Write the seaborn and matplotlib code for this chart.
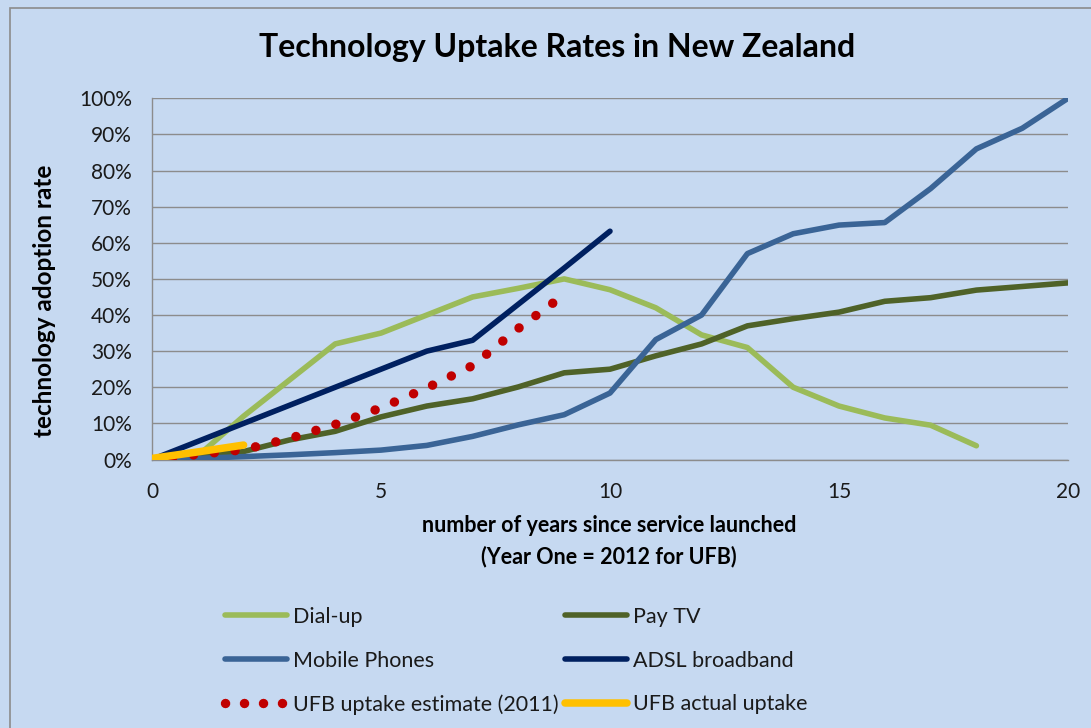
import numpy as np
import pandas as pd
import matplotlib
matplotlib.use("Agg")
import matplotlib.pyplot as plt
from matplotlib.ticker import PercentFormatter, MultipleLocator
from matplotlib.lines import Line2D
from matplotlib.patches import Rectangle
import seaborn as sns

# ---- data (adoption rate in %) ----
years_dialup = list(range(0, 19))
dialup = [0, 1, 12, 22, 32, 35, 40, 45, 47.4, 50, 47, 42, 34.5, 31, 20, 14.8, 11.5, 9.5, 3.8]

years_paytv = list(range(0, 21))
paytv = [0, 0.8, 2.2, 5.4, 7.8, 11.8, 14.8, 16.8, 20.1, 24.0, 25.0, 28.7, 32.0, 37.0,
         39.0, 40.8, 43.8, 44.8, 46.9, 47.9, 48.9]

years_mobile = list(range(0, 21))
mobile = [0, 0.3, 0.8, 1.3, 1.9, 2.6, 3.9, 6.4, 9.6, 12.4, 18.4, 33.2, 40.0, 57.0,
          62.5, 64.9, 65.6, 75.0, 86.0, 91.7, 100.0]

years_adsl = list(range(0, 11))
adsl = [0, 5, 10, 15, 20, 25, 30, 33, 43, 53, 63.2]

years_ufb_est = list(range(0, 10))
ufb_est = [0, 1.4, 2.7, 5.8, 9.7, 14.3, 19.8, 26.0, 36.3, 45.6]

years_ufb_act = [0, 1, 2]
ufb_act = [0.3, 2.1, 4.0]

labels = ["Dial-up", "Pay TV", "Mobile Phones", "ADSL broadband",
          "UFB uptake estimate (2011)", "UFB actual uptake"]
colors = ["#9bbb59", "#4f6228", "#3a6496", "#002060", "#c00000", "#ffc000"]

BG = "#c6d9f1"
GRID = "#8c8c8c"
TXT = "#1a1a1a"

sns.set_theme(style="white")
plt.rcParams["font.family"] = ["Lato", "DejaVu Sans"]

W, H = 1091, 728
fig = plt.figure(figsize=(W / 100, H / 100), dpi=100, facecolor=BG)

def fx(px):
    return px / W

def fy(py):
    return 1 - py / H

# chart border (left/top visible)
fig.patches.append(Rectangle((fx(10), fy(740)), fx(1100), fy(8) - fy(740),
                             transform=fig.transFigure, fill=False,
                             edgecolor="#8c8c8c", lw=1.2))

ax = fig.add_axes([fx(152), fy(459.5), fx(1068 - 152), fy(98.3) - fy(459.5)])
ax.set_facecolor(BG)

series = [
    (years_dialup, dialup),
    (years_paytv, paytv),
    (years_mobile, mobile),
    (years_adsl, adsl),
    (years_ufb_est, ufb_est),
    (years_ufb_act, ufb_act),
]

LW = 4.0
DOT = (0, (0.01, 2.2))
handles = []
for i, ((xs, ys), lab, col) in enumerate(zip(series, labels, colors)):
    df = pd.DataFrame({"year": xs, "rate": ys})
    if i == 4:
        sns.lineplot(data=df, x="year", y="rate", ax=ax, color=col, lw=6.8,
                     linestyle=DOT, dash_capstyle="round", zorder=3 + i)
        h = Line2D([], [], color=col, lw=6.8, linestyle=(0, (0.01, 2.0)),
                   dash_capstyle="round")
    elif i == 5:
        sns.lineplot(data=df, x="year", y="rate", ax=ax, color=col, lw=5.4,
                     solid_capstyle="round", zorder=3 + i)
        h = Line2D([], [], color=col, lw=5.4, solid_capstyle="round")
    else:
        sns.lineplot(data=df, x="year", y="rate", ax=ax, color=col, lw=LW,
                     solid_capstyle="round", solid_joinstyle="round", zorder=3 + i)
        h = Line2D([], [], color=col, lw=LW, solid_capstyle="round")
    handles.append(h)

ax.set_xlim(0, 20)
ax.set_ylim(0, 100)
ax.xaxis.set_major_locator(MultipleLocator(5))
ax.yaxis.set_major_locator(MultipleLocator(10))
ax.yaxis.set_major_formatter(PercentFormatter(100, decimals=0))
ax.grid(axis="y", color=GRID, lw=1.0)
ax.grid(axis="x", visible=False)
ax.set_axisbelow(True)
for s in ["top", "right"]:
    ax.spines[s].set_visible(False)
for s in ["left", "bottom"]:
    ax.spines[s].set_color(GRID)
    ax.spines[s].set_linewidth(1.0)
ax.tick_params(axis="both", which="major", direction="out", length=5.5, width=1.0,
               color=GRID, labelsize=15, labelcolor=TXT)
ax.tick_params(axis="y", pad=9)
ax.tick_params(axis="x", pad=11)
ax.set_xlabel("")
ax.set_ylabel("")

# titles and axis labels
fig.text(fx(557), fy(48), "Technology Uptake Rates in New Zealand", ha="center",
         va="center", fontsize=23, fontweight="bold", color="black")
fig.text(fx(45), fy(301), "technology adoption rate", ha="center", va="center",
         rotation=90, fontsize=17.5, fontweight="bold", color="black")
fig.text(fx(609), fy(526), "number of years since service launched", ha="center",
         va="center", fontsize=15.5, fontweight="bold", color="black")
fig.text(fx(609), fy(557), "(Year One = 2012 for UFB)", ha="center",
         va="center", fontsize=15.5, fontweight="bold", color="black")

# legend: two columns placed separately (row-major like the original)
common = dict(frameon=False, fontsize=15.5, handlelength=2.9, handletextpad=0.25,
              labelspacing=1.1, borderpad=0, borderaxespad=0, loc="upper left",
              labelcolor=TXT)
fig.legend([handles[0], handles[2], handles[4]], [labels[0], labels[2], labels[4]],
           bbox_to_anchor=(fx(225), fy(607)), **common)
fig.legend([handles[1], handles[3], handles[5]], [labels[1], labels[3], labels[5]],
           bbox_to_anchor=(fx(565), fy(607)), **common)

fig.savefig("out.png", dpi=100, facecolor=BG)
